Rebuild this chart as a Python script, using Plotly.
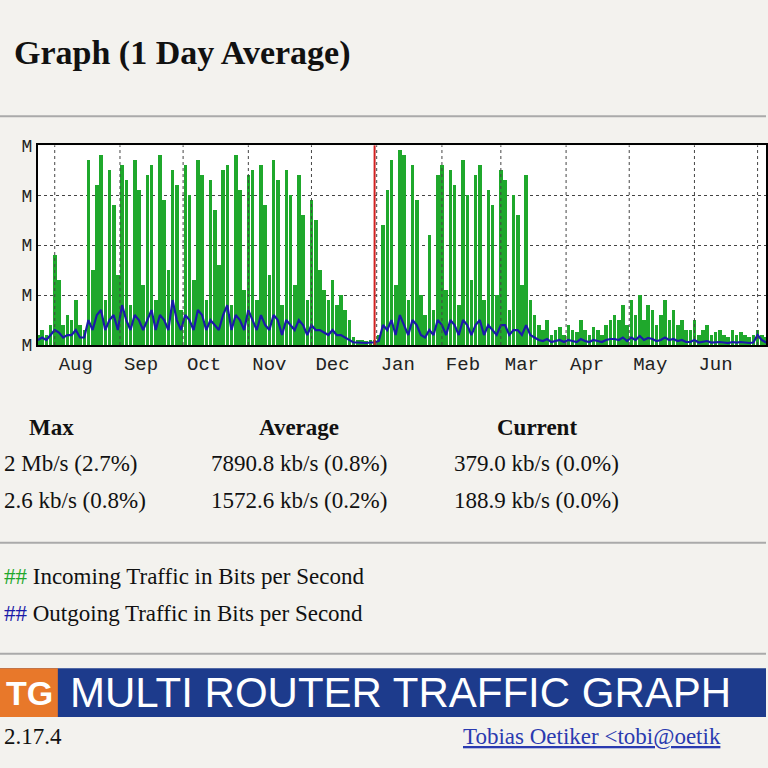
import pandas as pd
import plotly.graph_objects as go

# incoming traffic (Mb/s), 2-day bins starting 24 Jul
incoming = (
    [0.2, 0.3, 0.2, 0.4, 1.8, 1.3, 0.4, 0.6, 0.5, 0.9, 0.4, 0.3]
    + [3.7, 1.5, 3.2, 3.8, 0.9, 3.5, 2.8, 1.4, 3.6, 3.3, 0.8, 3.7, 3.1, 1.2,
       3.4, 3.6, 0.9, 3.8, 2.9, 1.5, 3.5, 3.2, 0.7, 3.6, 3.0, 1.3, 3.7, 3.4,
       0.9, 3.3, 2.7, 1.6, 3.5, 3.6, 0.8, 3.8, 3.1, 1.1, 3.4, 3.5, 0.9, 3.6,
       2.8, 1.4, 3.7, 3.3, 0.8, 3.5, 3.0, 1.2, 3.4, 2.6, 0.9, 2.9, 2.5, 1.5]
    + [1.1, 0.9, 1.3, 0.8, 1.0, 0.7, 0.5]
    + [0.15, 0.1, 0.1, 0.08, 0.1, 0.1, 0.2]
    + [2.4, 3.1, 3.7, 1.2, 3.9, 3.8, 0.9, 3.6, 2.9, 1.0, 0.6, 2.2, 0.7, 3.4,
       3.6, 1.1, 3.5, 3.2, 0.8, 3.7, 3.0, 1.3, 3.4, 3.6, 0.9, 3.1, 2.8, 1.0,
       3.5, 3.3, 0.7, 3.0, 2.6, 1.2, 3.4, 0.9, 0.6]
    + [0.4, 0.3, 0.5, 0.2, 0.3, 0.35, 0.2, 0.4, 0.3, 0.25, 0.5, 0.3, 0.2,
       0.35, 0.3, 0.2, 0.4, 0.5]
    + [0.6, 0.5, 0.8, 0.4, 0.9, 0.6, 1.0, 0.5, 0.8, 0.7, 0.4, 0.6, 0.9, 0.5,
       0.7, 0.4, 0.5, 0.3]
    + [0.3, 0.5, 0.2, 0.3, 0.4, 0.2, 0.25, 0.3, 0.2, 0.15, 0.3, 0.2, 0.25,
       0.2, 0.15, 0.2, 0.3, 0.2, 0.15, 0.2, 0.1]
)
outgoing = (
    [0.1, 0.15, 0.1, 0.2, 0.3, 0.25, 0.15, 0.2, 0.2, 0.3, 0.15, 0.15]
    + [0.5, 0.3, 0.6, 0.7, 0.3, 0.5, 0.6, 0.3, 0.8, 0.5, 0.3, 0.6, 0.5, 0.3,
       0.5, 0.7, 0.3, 0.6, 0.5, 0.3, 0.9, 0.5, 0.3, 0.6, 0.5, 0.3, 0.7, 0.6,
       0.3, 0.5, 0.4, 0.3, 0.6, 0.8, 0.3, 0.6, 0.5, 0.3, 0.7, 0.5, 0.3, 0.6,
       0.4, 0.3, 0.6, 0.5, 0.2, 0.5, 0.4, 0.3, 0.5, 0.4, 0.2, 0.4, 0.3, 0.3]
    + [0.25, 0.2, 0.3, 0.2, 0.2, 0.15, 0.1]
    + [0.05, 0.05, 0.04, 0.04, 0.05, 0.05, 0.08]
    + [0.4, 0.3, 0.5, 0.2, 0.6, 0.4, 0.2, 0.5, 0.4, 0.2, 0.15, 0.3, 0.2, 0.5,
       0.4, 0.2, 0.5, 0.4, 0.2, 0.5, 0.4, 0.2, 0.4, 0.5, 0.2, 0.4, 0.3, 0.2,
       0.4, 0.4, 0.2, 0.3, 0.3, 0.2, 0.4, 0.2, 0.15]
    + [0.1, 0.08, 0.12, 0.06, 0.08, 0.1, 0.06, 0.1, 0.08, 0.06, 0.12, 0.08,
       0.06, 0.1, 0.08, 0.06, 0.1, 0.12]
    + [0.12, 0.1, 0.15, 0.08, 0.15, 0.1, 0.18, 0.1, 0.14, 0.12, 0.08, 0.1,
       0.15, 0.1, 0.12, 0.08, 0.1, 0.06]
    + [0.06, 0.1, 0.05, 0.06, 0.08, 0.05, 0.06, 0.06, 0.05, 0.04, 0.06, 0.05,
       0.06, 0.05, 0.04, 0.05, 0.2, 0.1, 0.05, 0.05, 0.04]
)
months = ["Aug", "Sep", "Oct", "Nov", "Dec", "Jan", "Feb", "Mar", "Apr", "May", "Jun", "Jul"]
month_start = pd.date_range("2018-08-01", periods=12, freq="MS")

dates = pd.date_range("2018-07-24", periods=len(incoming), freq="2D")

fig = go.Figure()
fig.add_trace(go.Bar(x=dates, y=incoming, marker_color="#1fa82c",
                     marker_line_width=0, width=1.7 * 86400000))
fig.add_trace(go.Scatter(x=dates, y=outgoing, mode="lines",
                         line=dict(color="#1a1aa8", width=2.2)))

tick_pos = [m.replace(day=11) for m in month_start[:-1]] + [month_start[-1].replace(day=5)]
fig.update_xaxes(range=["2018-07-24", "2019-07-05"], tickvals=tick_pos,
                 ticktext=months, showgrid=False, ticks="", zeroline=False,
                 tickfont=dict(family="Liberation Mono", size=19, color="#222"),
                 showline=True, linecolor="black", linewidth=2, mirror=True)
fig.update_yaxes(range=[0, 4], tickvals=[0, 1, 2, 3, 4], ticktext=["M"] * 5,
                 showgrid=True, gridcolor="#444", griddash="dot", gridwidth=1,
                 tickfont=dict(family="Liberation Mono", size=18, color="#222"),
                 showline=True, linecolor="black", linewidth=2, mirror=True, zeroline=False)

shapes = []
for m in month_start:
    shapes.append(dict(type="line", xref="x", yref="paper", x0=m, x1=m,
                       y0=1 - 345 / 768, y1=1 - 140 / 768, line=dict(color="#444", width=1, dash="dot")))
shapes.append(dict(type="line", xref="x", yref="paper", x0="2018-12-31", x1="2018-12-31",
                   y0=1 - 345 / 768, y1=1 - 140 / 768, line=dict(color="#d02020", width=2)))
for yy in [110, 548, 662]:
    shapes.append(dict(type="line", xref="paper", yref="paper", x0=0, x1=1,
                       y0=1 - yy / 768, y1=1 - yy / 768, line=dict(color="#aaa", width=2)))
shapes.append(dict(type="rect", xref="paper", yref="paper", x0=0, x1=1,
                   y0=1 - 727 / 768, y1=1 - 677 / 768, fillcolor="#1d3b8c", line_width=0))
shapes.append(dict(type="rect", xref="paper", yref="paper", x0=0, x1=58 / 768,
                   y0=1 - 727 / 768, y1=1 - 677 / 768, fillcolor="#e8782a", line_width=0))

serif = "Liberation Serif"
ann = []


def txt(x, y, s, size=23, color="#111", anchor="center", family=serif):
    ann.append(dict(xref="paper", yref="paper", x=x / 768, y=1 - y / 768, text=s,
                    showarrow=False, xanchor=anchor, yanchor="middle",
                    font=dict(family=family, size=size, color=color)))


txt(12, 45, "<b>Graph (1 Day Average)</b>", size=34, anchor="left")
txt(52, 430, "<b>Max</b>")
txt(300, 430, "<b>Average</b>")
txt(538, 430, "<b>Current</b>")
txt(2, 467, "2 Mb/s (2.7%)", anchor="left")
txt(300, 467, "7890.8 kb/s (0.8%)")
txt(538, 467, "379.0 kb/s (0.0%)")
txt(2, 505, "2.6 kb/s (0.8%)", anchor="left")
txt(300, 505, "1572.6 kb/s (0.2%)")
txt(538, 505, "188.9 kb/s (0.0%)")
txt(2, 583, "<span style='color:#1fa82c'>##</span> Incoming Traffic in Bits per Second", anchor="left")
txt(2, 621, "<span style='color:#1a1aa8'>##</span> Outgoing Traffic in Bits per Second", anchor="left")
txt(4, 702, "<b>TG</b>", size=34, color="white", anchor="left", family="Liberation Sans")
txt(68, 702, "MULTI ROUTER TRAFFIC GRAPH", size=42, color="white", anchor="left", family="Liberation Sans")
txt(2, 747, "2.17.4", anchor="left")
txt(462, 747, "<u>Tobias Oetiker &lt;tobi@oetik</u>", color="#2a3ab0", anchor="left")

fig.update_layout(width=768, height=768, margin=dict(l=0, r=0, t=0, b=0),
                  paper_bgcolor="#f3f2ee", plot_bgcolor="white", showlegend=False,
                  bargap=0, shapes=shapes, annotations=ann,
                  xaxis=dict(domain=[38 / 768, 1.0]),
                  yaxis=dict(domain=[1 - 345 / 768, 1 - 140 / 768]))
fig.write_html("out.html", config={"displayModeBar": False},
               post_script="document.body.style.margin='0';")
